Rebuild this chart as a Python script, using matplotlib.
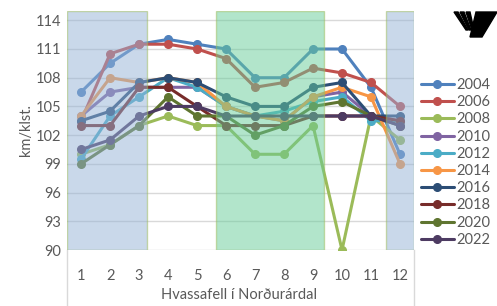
import matplotlib

matplotlib.use("Agg")
import matplotlib.pyplot as plt
from matplotlib.patches import Polygon

months = [1, 2, 3, 4, 5, 6, 7, 8, 9, 10, 11, 12]
years = ["2004", "2006", "2008", "2010", "2012", "2014", "2016", "2018", "2020", "2022"]

v2004 = [106.5, 109.5, 111.5, 112, 111.5, 111, 108, 108, 111, 111, 107, 100]
v2006 = [103.5, 110.5, 111.5, 111.5, 111, 110, 107, 107.5, 109, 108.5, 107.5, 105]
v2008 = [100, 101, 103, 104, 103, 103, 100, 100, 103, 90, 104, 101.5]
v2010 = [104, 106.5, 107, 107, 107, 105, 104, 103.5, 106, 106.5, 104, 103.5]
v2012 = [99.5, 104, 106, 108, 107, 105, 104, 104.5, 105.5, 106, 103.5, 103.5]
v2014 = [104, 108, 107.5, 108, 107.5, 105, 104, 103.5, 106, 107, 106, 99]
v2016 = [103.5, 104.5, 107.5, 108, 107.5, 106, 105, 105, 107, 107.5, 104, 104]
v2018 = [103, 103, 107, 107, 105, 103, 103, 103, 104, 104, 104, 103.5]
v2020 = [99, 101, 103, 106, 104, 104, 102, 103, 105, 105.5, 104, 103]
v2022 = [100.5, 101.5, 104, 105, 105, 104, 104, 104, 104, 104, 104, 103]

series = [v2004, v2006, v2008, v2010, v2012, v2014, v2016, v2018, v2020, v2022]
colors = ["#4F81BD", "#C0504D", "#9BBB59", "#8064A2", "#4BACC6",
          "#F79646", "#2C4D75", "#772C2A", "#5F7530", "#4D3B62"]

y_ticks = [90, 93, 96, 99, 102, 105, 108, 111, 114]
x_label = "Hvassafell í Norðurárdal"
y_label = "km/klst."

TXT = "#595959"
FS = 10.5

plt.rcParams["font.family"] = ["Lato", "DejaVu Sans"]

fig = plt.figure(figsize=(4.97, 3.06), dpi=100)
ax = fig.add_axes([0.134, 0.183, 0.700, 0.782])

for vals, col, lab in zip(series, colors, years):
    ax.plot(months, vals, color=col, lw=2.2, marker="o", markersize=5.5,
            label=lab, zorder=3, solid_capstyle="round")

# shaded month bands drawn over the lines
for x0, x1, fc in [(0.5, 3.28, "#95B3D7"), (5.66, 9.38, "#66CC99"), (11.5, 12.5, "#95B3D7")]:
    ax.axvspan(x0, x1, ymin=0, ymax=1, facecolor=fc, alpha=0.5,
               edgecolor="#9BBB59", lw=1.0, zorder=4)

ax.set_xlim(0.5, 12.5)
ax.set_ylim(90, 115)
ax.set_yticks(y_ticks)
ax.set_xticks(months)
ax.grid(axis="y", color="#D9D9D9", lw=1.0, zorder=0)
ax.set_axisbelow(True)
for s in ax.spines.values():
    s.set_visible(False)
ax.tick_params(length=0, labelsize=FS, colors=TXT, pad=14)
ax.tick_params(axis="y", pad=4)
ax.set_ylabel(y_label, fontsize=FS, color=TXT, labelpad=2)

# category group divider lines and group label
for xf in (0.0, 1.0):
    ax.plot([xf, xf], [0, -0.24], transform=ax.transAxes, color="#D9D9D9",
            lw=1.0, clip_on=False)
ax.text(0.495, -0.19, x_label, transform=ax.transAxes, ha="center", va="center",
        fontsize=FS, color=TXT)

ax.legend(loc="upper left", bbox_to_anchor=(0.848, 0.745),
          bbox_transform=fig.transFigure, frameon=False, fontsize=FS,
          labelcolor=TXT, handlelength=2.2, handletextpad=0.2,
          labelspacing=0.22, borderaxespad=0, borderpad=0)

# logo, top right
W, H = 497.0, 306.0
def fp(pts):
    return [(x / W, 1 - y / H) for x, y in pts]

fig.patches.append(Polygon(fp([(476, 12), (497, 12), (482, 37), (470, 37)]),
                           closed=True, color="black", transform=fig.transFigure))
for dx in (0, 6, 12):
    fig.patches.append(Polygon(fp([(454 + dx, 12), (458 + dx, 12), (468 + dx * 0.5, 30),
                                   (466 + dx * 0.5, 30)]),
                               closed=True, color="black", transform=fig.transFigure))

fig.savefig("out.png", dpi=100)
